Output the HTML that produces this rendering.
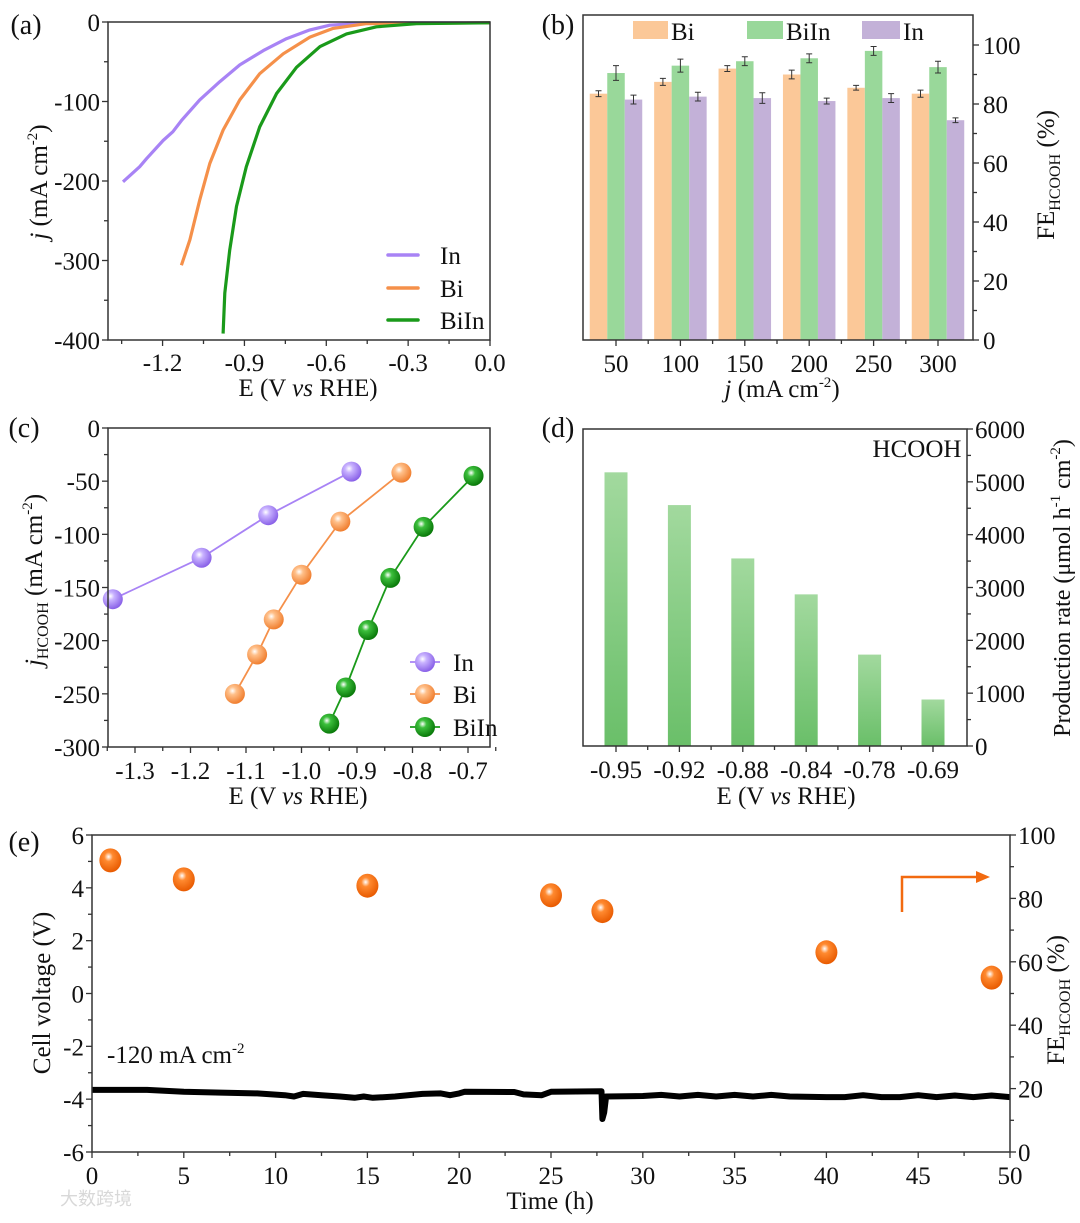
<!DOCTYPE html>
<html><head><meta charset="utf-8"><style>
html,body{margin:0;padding:0;background:#fff;}
svg text{font-family:"Liberation Serif","Times New Roman",Times,"Noto Serif CJK SC",serif;}
</style></head><body>
<svg id="fig" width="1080" height="1218" viewBox="0 0 1080 1218" xmlns="http://www.w3.org/2000/svg">
<defs>
<radialGradient id="gIn" cx="0.38" cy="0.35" r="0.65"><stop offset="0" stop-color="#fff"/><stop offset="0.3" stop-color="#c9b3ff"/><stop offset="1" stop-color="#8a62e8"/></radialGradient>
<radialGradient id="gBi" cx="0.38" cy="0.35" r="0.65"><stop offset="0" stop-color="#fff"/><stop offset="0.3" stop-color="#ffc08a"/><stop offset="1" stop-color="#f07f30"/></radialGradient>
<radialGradient id="gBiIn" cx="0.38" cy="0.35" r="0.65"><stop offset="0" stop-color="#fff"/><stop offset="0.3" stop-color="#3cbf3c"/><stop offset="1" stop-color="#0a7a0a"/></radialGradient>
<radialGradient id="gOr" cx="0.42" cy="0.35" r="0.65"><stop offset="0" stop-color="#fff"/><stop offset="0.3" stop-color="#ff8a30"/><stop offset="1" stop-color="#e85a00"/></radialGradient>
<linearGradient id="gBar" x1="0" y1="0" x2="0" y2="1"><stop offset="0" stop-color="#a2d99e"/><stop offset="1" stop-color="#6abf69"/></linearGradient>
</defs>
</svg>
<script>
// ---- data: panel (a) LSV ----
const aInE=[-1.345,-1.284,-1.259,-1.198,-1.162,-1.131,-1.064,-0.990,-0.917,-0.831,-0.746,-0.660,-0.587,-0.452,0];
const aInJ=[-201,-182,-172,-149,-138,-124,-98,-75,-54,-36,-21,-10,-4,-1,-1];
const aBiE=[-1.131,-1.100,-1.064,-1.027,-0.978,-0.917,-0.844,-0.758,-0.660,-0.575,-0.452,0];
const aBiJ=[-306,-274,-224,-178,-136,-98,-65,-40,-19,-8,-2,-1];
const aBiInE=[-0.978,-0.972,-0.954,-0.929,-0.893,-0.844,-0.782,-0.709,-0.623,-0.526,-0.416,-0.269,0];
const aBiInJ=[-392,-341,-287,-232,-182,-132,-90,-57,-31,-15,-6,-2,-1];
const aXTicks=[-1.2,-0.9,-0.6,-0.3,0.0];
const aYTicks=[0,-100,-200,-300,-400];
// ---- panel (b) FE bars ----
const bCats=["50","100","150","200","250","300"];
const bBi=[83.5,87.5,92,90,85.5,83.5];
const bBiErr=[1,1.2,1,1.5,0.8,1.2];
const bBiIn=[90.5,93,94.5,95.5,98,92.5];
const bBiInErr=[2.5,2.2,1.5,1.5,1.5,2];
const bIn=[81.5,82.5,82,81,82,74.5];
const bInErr=[1.5,1.5,1.8,1,1.5,0.8];
const bYTicks=[0,20,40,60,80,100];
// ---- panel (c) partial current ----
const cInE=[-1.34,-1.18,-1.06,-0.91];
const cInJ=[-161,-122,-82,-41];
const cBiE=[-1.12,-1.08,-1.05,-1.0,-0.93,-0.82];
const cBiJ=[-250,-213,-180,-138,-88,-42];
const cBiInE=[-0.95,-0.92,-0.88,-0.84,-0.78,-0.69];
const cBiInJ=[-278,-244,-190,-141,-93,-45];
const cXTicks=[-1.3,-1.2,-1.1,-1.0,-0.9,-0.8,-0.7];
const cYTicks=[0,-50,-100,-150,-200,-250,-300];
// ---- panel (d) production rate ----
const dCats=["-0.95","-0.92","-0.88","-0.84","-0.78","-0.69"];
const dVals=[5180,4560,3550,2870,1730,880];
const dYTicks=[0,1000,2000,3000,4000,5000,6000];
// ---- panel (e) stability ----
const eFeT=[1,5,15,25,27.8,40,49];
const eFeV=[92,86,84,81,76,63,55];
const eVT=[0,3,5,7,9,10.5,11,11.5,12.5,13.5,14.3,14.8,15.3,16.5,18,19,19.5,20,20.3,23,23.5,24.5,25,27.75,27.8,27.9,28,30,31,32,33,34,35,36,37,38,40,41,42,43,44,45,46,47,48,49,50];
const eVV=[-3.65,-3.65,-3.72,-3.75,-3.78,-3.85,-3.9,-3.8,-3.85,-3.9,-3.95,-3.9,-3.95,-3.9,-3.8,-3.78,-3.85,-3.78,-3.72,-3.73,-3.82,-3.85,-3.72,-3.7,-4.75,-4.5,-3.9,-3.88,-3.84,-3.9,-3.84,-3.9,-3.84,-3.9,-3.84,-3.9,-3.92,-3.92,-3.85,-3.92,-3.92,-3.85,-3.92,-3.86,-3.92,-3.86,-3.92];
const eXTicks=[0,5,10,15,20,25,30,35,40,45,50];
const eYTicks=[-6,-4,-2,0,2,4,6];
const eY2Ticks=[0,20,40,60,80,100];

const svg=document.getElementById('fig');
const NS='http://www.w3.org/2000/svg';
const FONT='"Liberation Serif","Times New Roman",Times,serif';
const TS=25; // tick font size
function el(tag,attrs,parent){const e=document.createElementNS(NS,tag);for(const k in attrs)e.setAttribute(k,attrs[k]);(parent||svg).appendChild(e);return e;}
function txt(s,x,y,size,anchor,parent,extra){const t=el('text',Object.assign({x:x,y:y,'font-size':size,'text-anchor':anchor||'middle',fill:'#111','font-family':FONT},extra||{}),parent);t.style.fontFamily=FONT;t.innerHTML=s;return t;}
function lin(d0,d1,r0,r1){return v=>r0+(v-d0)/(d1-d0)*(r1-r0);}
function fmt(v,d){return (v<0?'-':'')+Math.abs(v).toFixed(d);}
function frame(g,x0,y0,x1,y1){el('rect',{x:x0,y:y0,width:x1-x0,height:y1-y0,fill:'none',stroke:'#333','stroke-width':1.5},g);}
function tick(g,x1,y1,x2,y2){el('line',{x1:x1,y1:y1,x2:x2,y2:y2,stroke:'#333','stroke-width':1.3},g);}
function path(xs,ys,sx,sy){return xs.map((v,i)=>(i?'L':'M')+sx(v).toFixed(1)+','+sy(ys[i]).toFixed(1)).join(' ');}

// ===== Panel A =====
(function(){
const g=el('g',{});


const X0=108,X1=490,Y0=22,Y1=340;
const sx=lin(-1.4,0,X0,X1), sy=lin(0,-400,Y0,Y1);
const series=[[aInE,aInJ,'#a883f5','curve-in'],[aBiE,aBiJ,'#f5904a','curve-bi'],[aBiInE,aBiInJ,'#1a9a1a','curve-biin']];
series.forEach(s=>{const p=el('path',{d:path(s[0],s[1],sx,sy),fill:'none',stroke:s[2],'stroke-width':3.2,'stroke-linejoin':'round'},g);

});
frame(g,X0,Y0,X1,Y1);
aXTicks.forEach(v=>{tick(g,sx(v),Y1,sx(v),Y1+6);txt(fmt(v,1),sx(v),Y1+31,TS,'middle',g);});
for(let v=-1.35;v<0;v+=0.3){tick(g,sx(v),Y1,sx(v),Y1+4);}
aYTicks.forEach(v=>{tick(g,X0,sy(v),X0-6,sy(v));txt(String(v),X0-8,sy(v)+9,TS,'end',g);});
for(let v=-50;v>-400;v-=100){tick(g,X0,sy(v),X0-4,sy(v));}
txt('E (V <tspan font-style="italic">vs</tspan> RHE)',308,396,TS,'middle',g);
txt('<tspan font-style="italic">j</tspan> (mA cm<tspan font-size="15" dy="-10">-2</tspan><tspan dy="10">)</tspan>',0,0,TS,'middle',g,{transform:'translate(47,182) rotate(-90)'});
txt('(a)',26,34,28,'middle',g);
[['In','#a883f5',255],['Bi','#f5904a',288],['BiIn','#1a9a1a',320]].forEach(l=>{
const lg=el('g',{},g);


el('line',{x1:388,y1:l[2],x2:418,y2:l[2],stroke:l[1],'stroke-width':3.5,'stroke-linecap':'round'},lg);
txt(l[0],440,l[2]+9,TS,'start',lg);});
})();

// ===== Panel B =====
(function(){
const g=el('g',{});


const X0=583,X1=973,Y0=15,Y1=340;
const sy=lin(0,100,Y1,45);
const bw=17.5;
const cx=i=>616+i*64.4;
const sets=[[bBi,bBiErr,'#fbc898',-1,'bi'],[bBiIn,bBiInErr,'#99d89a',0,'biin'],[bIn,bInErr,'#c3b1d8',1,'in']];
bCats.forEach((c,i)=>{sets.forEach(s=>{
const x=cx(i)+s[3]*bw-bw/2;
const r=el('rect',{x:x,y:sy(s[0][i]),width:bw,height:Y1-sy(s[0][i]),fill:s[2]},g);


const xc=x+bw/2,t=sy(s[0][i]+s[1][i]),b=sy(s[0][i]-s[1][i]);
el('path',{d:`M${xc},${t}V${b}M${xc-3},${t}H${xc+3}M${xc-3},${b}H${xc+3}`,stroke:'#333','stroke-width':1,fill:'none'},g);
});});
frame(g,X0,Y0,X1,Y1);
bCats.forEach((c,i)=>{tick(g,cx(i),Y1,cx(i),Y1+6);txt(c,cx(i),Y1+32,TS,'middle',g);if(i<5)tick(g,cx(i)+32.2,Y1,cx(i)+32.2,Y1+4);});
bYTicks.forEach(v=>{tick(g,X1,sy(v),X1+6,sy(v));txt(String(v),X1+10,sy(v)+9,TS,'start',g);});
for(let v=10;v<=100;v+=20)tick(g,X1,sy(v),X1+4,sy(v));
txt('<tspan font-style="italic">j</tspan> (mA cm<tspan font-size="15" dy="-10">-2</tspan><tspan dy="10">)</tspan>',782,397,TS,'middle',g);
txt('FE<tspan font-size="16" dy="6">HCOOH</tspan><tspan dy="-6"> (%)</tspan>',0,0,TS,'middle',g,{transform:'translate(1054,175) rotate(-90)'});
txt('(b)',558,34,28,'middle',g);
[['Bi','#fbc898',633,668],['BiIn','#99d89a',747,783],['In','#c3b1d8',862,900]].forEach(l=>{
const lg=el('g',{},g);


el('rect',{x:l[2],y:21,width:l[3]-l[2],height:18,fill:l[1]},lg);
txt(l[0],l[3]+3,40,TS,'start',lg);});
})();

// ===== Panel C =====
(function(){
const g=el('g',{});


const X0=108,X1=490,Y0=428,Y1=747;
const sx=lin(-1.3,-0.7,135,468), sy=lin(0,-300,Y0,Y1);
const series=[[cInE,cInJ,'#a883f5','gIn','in'],[cBiE,cBiJ,'#f5904a','gBi','bi'],[cBiInE,cBiInJ,'#1a9a1a','gBiIn','biin']];
series.forEach(s=>{
const p=el('path',{d:path(s[0],s[1],sx,sy),fill:'none',stroke:s[2],'stroke-width':1.8},g);


s[0].forEach((v,i)=>{const c=el('circle',{cx:sx(v),cy:sy(s[1][i]),r:10,fill:'url(#'+s[3]+')'},g);

});
});
frame(g,X0,Y0,X1,Y1);
cXTicks.forEach(v=>{tick(g,sx(v),Y1,sx(v),Y1+6);txt(fmt(v,1),sx(v),Y1+32,TS,'middle',g);tick(g,sx(v+0.05),Y1,sx(v+0.05),Y1+4);});
tick(g,sx(-1.35),Y1,sx(-1.35),Y1+4);
cYTicks.forEach(v=>{tick(g,X0,sy(v),X0-6,sy(v));txt(String(v),X0-8,sy(v)+9,TS,'end',g);if(v>-300)tick(g,X0,sy(v-25),X0-4,sy(v-25));});
txt('E (V <tspan font-style="italic">vs</tspan> RHE)',298,804,TS,'middle',g);
txt('<tspan font-style="italic">j</tspan><tspan font-size="16" dy="6">HCOOH</tspan><tspan dy="-6"> (mA cm</tspan><tspan font-size="15" dy="-10">-2</tspan><tspan dy="10">)</tspan>',0,0,TS,'middle',g,{transform:'translate(42,580) rotate(-90)'});
txt('(c)',24,437,28,'middle',g);
[['In','gIn','#a883f5',662],['Bi','gBi','#f5904a',694],['BiIn','gBiIn','#1a9a1a',727]].forEach(l=>{
const lg=el('g',{},g);


el('line',{x1:410,y1:l[3],x2:440,y2:l[3],stroke:l[2],'stroke-width':1.8},lg);
el('circle',{cx:425,cy:l[3],r:10,fill:'url(#'+l[1]+')'},lg);
txt(l[0],453,l[3]+9,TS,'start',lg);});
})();

// ===== Panel D =====
(function(){
const g=el('g',{});


const X0=583,X1=967,Y0=429,Y1=746;
const sy=lin(0,6000,Y1,Y0);
const cx=i=>616+i*63.4;
dCats.forEach((c,i)=>{
const r=el('rect',{x:cx(i)-11.5,y:sy(dVals[i]),width:23,height:Y1-sy(dVals[i]),fill:'url(#gBar)'},g);


tick(g,cx(i),Y1,cx(i),Y1+6);txt(c,cx(i),Y1+32,TS,'middle',g);
if(i<5)tick(g,cx(i)+31.7,Y1,cx(i)+31.7,Y1+4);
});
frame(g,X0,Y0,X1,Y1);
dYTicks.forEach(v=>{tick(g,X1,sy(v),X1+6,sy(v));txt(String(v),X1+8,sy(v)+9,TS,'start',g);if(v<6000)tick(g,X1,sy(v+500),X1+4,sy(v+500));});
txt('HCOOH',917,457,TS,'middle',g);
txt('E (V <tspan font-style="italic">vs</tspan> RHE)',786,804,TS,'middle',g);
txt('Production rate (μmol h<tspan font-size="15" dy="-10">-1</tspan><tspan dy="10"> cm</tspan><tspan font-size="15" dy="-10">-2</tspan><tspan dy="10">)</tspan>',0,0,24,'middle',g,{transform:'translate(1070,588) rotate(-90)'});
txt('(d)',558,437,28,'middle',g);
})();

// ===== Panel E =====
(function(){
const g=el('g',{});


const X0=92,X1=1010,Y0=835,Y1=1152;
const sx=lin(0,50,X0,X1), sy=lin(-6,6,Y1,Y0), sy2=lin(0,100,Y1,Y0);
const ln=el('path',{d:eVT.map((t,i)=>(i?'L':'M')+sx(t).toFixed(1)+','+sy(eVV[i]).toFixed(1)).join(' '),fill:'none',stroke:'#000','stroke-width':6,'stroke-linejoin':'round'},g);


eFeT.forEach((t,i)=>{const c=el('ellipse',{cx:sx(t),cy:sy2(eFeV[i]),rx:11,ry:12,fill:'url(#gOr)'},g);

});
frame(g,X0,Y0,X1,Y1);
eXTicks.forEach(v=>{tick(g,sx(v),Y1,sx(v),Y1+6);txt(String(v),sx(v),Y1+32,TS,'middle',g);if(v<50)tick(g,sx(v+2.5),Y1,sx(v+2.5),Y1+4);});
eYTicks.forEach(v=>{tick(g,X0,sy(v),X0-6,sy(v));txt(String(v),X0-8,sy(v)+9,TS,'end',g);if(v<6)tick(g,X0,sy(v+1),X0-4,sy(v+1));});
eY2Ticks.forEach(v=>{tick(g,X1,sy2(v),X1+6,sy2(v));txt(String(v),X1+8,sy2(v)+9,TS,'start',g);if(v<100)tick(g,X1,sy2(v+10),X1+4,sy2(v+10));});
const ar=el('path',{d:'M902,912V877H978',fill:'none',stroke:'#f26a10','stroke-width':2.5},g);


el('path',{d:'M976,871L990,877L976,883Z',fill:'#f26a10'},g);
txt('-120 mA cm<tspan font-size="15" dy="-10">-2</tspan>',107,1063,TS,'start',g);
txt('Time (h)',550,1209,TS,'middle',g);
txt('Cell voltage (V)',0,0,TS,'middle',g,{transform:'translate(50,993) rotate(-90)'});
txt('FE<tspan font-size="16" dy="6">HCOOH</tspan><tspan dy="-6"> (%)</tspan>',0,0,TS,'middle',g,{transform:'translate(1064,1000) rotate(-90)'});
txt('(e)',24,851,28,'middle',g);
const wm=txt('大数跨境',60,1205,18,'start',g,{fill:'#d8d8d8'});
wm.style.fontFamily='"Noto Sans CJK SC",sans-serif';
})();
</script>
</body></html>
